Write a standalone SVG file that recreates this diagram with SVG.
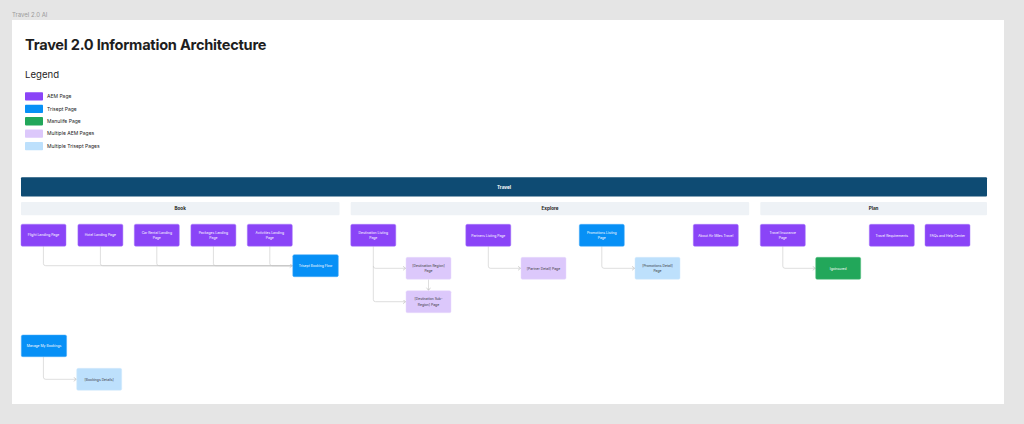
<svg xmlns="http://www.w3.org/2000/svg" width="1024" height="424" viewBox="0 0 1024 424">
<style>
text{font-family:Inter,"Noto Sans","Liberation Sans",sans-serif}
.n rect{rx:1.5;ry:1.5;stroke-width:0.5}
.aem rect{fill:#8a44f7;stroke:#a77af9}
.tri rect{fill:#0790f6;stroke:#4badf8}
.man rect{fill:#22a75a;stroke:#5cc185}
.maem rect{fill:#dcc8fb;stroke:#e8dafd}
.mtri rect{fill:#bde0fc;stroke:#d3eafd}
.n text{font-size:3.4px;text-anchor:middle;fill:#ffffff}
.maem text,.mtri text{fill:#3a3a3a}
.band rect{fill:#eef2f6}
.band text{font-size:4.6px;font-weight:700;text-anchor:middle;fill:#222}
.leg text{font-size:5px;fill:#222}
.c path{fill:none;stroke:#c8c8c8;stroke-width:0.6}
</style>
<defs>
<marker id="ar" markerUnits="userSpaceOnUse" markerWidth="6" markerHeight="6" refX="3" refY="2.2" orient="auto">
<path d="M0.3,0.2 L3,2.2 L0.3,4.2" fill="none" stroke="#b8b8b8" stroke-width="0.6"/>
</marker>
</defs>
<rect x="0" y="0" width="1024" height="424" fill="#e5e5e5"/>
<text x="12" y="16.5" font-size="6" fill="#9a9a9a">Travel 2.0 AI</text>
<rect x="12" y="20" width="992" height="384" fill="#ffffff"/>
<text x="25" y="50" font-size="14.6" font-weight="700" fill="#1e1e1e" letter-spacing="-0.25">Travel 2.0 Information Architecture</text>
<text x="25" y="77.7" font-size="9.6" fill="#1e1e1e">Legend</text>
<g id="legend" class="leg">
<rect x="25" y="92.3" width="18" height="8.3" rx="0.8" fill="#8a44f7"/><text x="47" y="98.2">AEM Page</text>
<rect x="25" y="104.7" width="18" height="8.3" rx="0.8" fill="#0790f6"/><text x="47" y="110.6">Trisept Page</text>
<rect x="25" y="117.1" width="18" height="8.3" rx="0.8" fill="#22a75a"/><text x="47" y="123">Manulife Page</text>
<rect x="25" y="129.5" width="18" height="8.3" rx="0.8" fill="#dcc8fb"/><text x="47" y="135.4">Multiple AEM Pages</text>
<rect x="25" y="141.9" width="18" height="8.3" rx="0.8" fill="#bde0fc"/><text x="47" y="147.8">Multiple Trisept Pages</text>
</g>
<g id="travel">
<rect x="21" y="177.3" width="966" height="19.3" rx="1" fill="#0e4b73"/>
<text x="504" y="188.6" font-size="4.6" font-weight="700" fill="#ffffff" text-anchor="middle">Travel</text>
</g>
<g id="band-book" class="band"><rect x="21" y="202" width="318.5" height="13.2" rx="1"/><text x="180.2" y="210.2">Book</text></g>
<g id="band-explore" class="band"><rect x="350.7" y="202" width="398.5" height="13.2" rx="1"/><text x="550" y="210.2">Explore</text></g>
<g id="band-plan" class="band"><rect x="760.3" y="202" width="226.7" height="13.2" rx="1"/><text x="873.6" y="210.2">Plan</text></g>

<g id="connectors" class="c">
<path d="M43.4 246.3 V263.5 Q43.4 265.7 45.6 265.7 H292.4" marker-end="url(#ar)"/>
<path d="M100.4 246.3 V263.5 Q100.4 265.7 102.6 265.7 H292.4"/>
<path d="M156.8 246.3 V263.5 Q156.8 265.7 159 265.7 H292.4"/>
<path d="M213.4 246.3 V263.5 Q213.4 265.7 215.6 265.7 H292.4"/>
<path d="M269.8 246.3 V263.5 Q269.8 265.7 272 265.7 H292.4"/>
<path d="M373.3 246.3 V266.1 Q373.3 268.3 375.5 268.3 H405.7" marker-end="url(#ar)"/>
<path d="M373.3 266 V299.5 Q373.3 301.7 375.5 301.7 H405.7" marker-end="url(#ar)"/>
<path d="M428.5 279.3 V290.4" marker-end="url(#ar)"/>
<path d="M488.3 246.3 V266.1 Q488.3 268.3 490.5 268.3 H520.7" marker-end="url(#ar)"/>
<path d="M601.8 246.3 V266.1 Q601.8 268.3 604 268.3 H634.7" marker-end="url(#ar)"/>
<path d="M782.8 246.3 V266.1 Q782.8 268.3 785 268.3 H815.4" marker-end="url(#ar)"/>
<path d="M43.4 356.7 V377.1 Q43.4 379.3 45.6 379.3 H76.4" marker-end="url(#ar)"/>
</g>

<g id="flight" class="n aem"><rect x="21" y="224.2" width="45" height="22"/><text x="43.5" y="236.4">Flight Landing Page</text></g>
<g id="hotel" class="n aem"><rect x="77.9" y="224.2" width="45" height="22"/><text x="100.4" y="236.4">Hotel Landing Page</text></g>
<g id="carrental" class="n aem"><rect x="134.3" y="224.2" width="45" height="22"/><text x="156.8" y="233.6">Car Rental Landing</text><text x="156.8" y="239.2">Page</text></g>
<g id="packages" class="n aem"><rect x="190.9" y="224.2" width="45" height="22"/><text x="213.4" y="233.6">Packages Landing</text><text x="213.4" y="239.2">Page</text></g>
<g id="activities" class="n aem"><rect x="247.3" y="224.2" width="45" height="22"/><text x="269.8" y="233.6">Activities Landing</text><text x="269.8" y="239.2">Page</text></g>
<g id="trisept" class="n tri"><rect x="292.8" y="254.7" width="45.5" height="22"/><text x="315.5" y="266.9">Trisept Booking Flow</text></g>

<g id="destination" class="n aem"><rect x="350.8" y="224.3" width="45" height="22"/><text x="373.3" y="233.7">Destination Listing</text><text x="373.3" y="239.3">Page</text></g>
<g id="destregion" class="n maem"><rect x="406" y="257.3" width="45" height="22"/><text x="428.5" y="266.7">[Destination Region]</text><text x="428.5" y="272.3">Page</text></g>
<g id="destsubregion" class="n maem"><rect x="406" y="290.7" width="45" height="22"/><text x="428.5" y="300.1">[Destination Sub-</text><text x="428.5" y="305.7">Region] Page</text></g>
<g id="partners" class="n aem"><rect x="465.8" y="224.3" width="45" height="22"/><text x="488.3" y="236.5">Partners Listing Page</text></g>
<g id="partnerdetail" class="n maem"><rect x="521" y="257.3" width="45" height="22"/><text x="543.5" y="269.5">[Partner Detail] Page</text></g>
<g id="promotions" class="n tri"><rect x="579.3" y="224.3" width="45" height="22"/><text x="601.8" y="233.7">Promotions Listing</text><text x="601.8" y="239.3">Page</text></g>
<g id="promodetail" class="n mtri"><rect x="635" y="257.3" width="45" height="22"/><text x="657.5" y="266.7">[Promotions Detail]</text><text x="657.5" y="272.3">Page</text></g>
<g id="about" class="n aem"><rect x="693.3" y="224.3" width="45" height="22"/><text x="715.8" y="236.5">About Air Miles Travel</text></g>

<g id="insurance" class="n aem"><rect x="760.3" y="224.3" width="45" height="22"/><text x="782.8" y="233.7">Travel Insurance</text><text x="782.8" y="239.3">Page</text></g>
<g id="igoinsured" class="n man"><rect x="815.7" y="257.3" width="45" height="22"/><text x="838.2" y="269.5">Igoinsured</text></g>
<g id="requirements" class="n aem"><rect x="869.3" y="224.3" width="45" height="22"/><text x="891.8" y="236.5">Travel Requirements</text></g>
<g id="faqs" class="n aem"><rect x="925" y="224.3" width="45" height="22"/><text x="947.5" y="236.5">FAQs and Help Center</text></g>

<g id="managebookings" class="n tri"><rect x="21.3" y="335" width="45.3" height="21.7"/><text x="44" y="347">Manage My Bookings</text></g>
<g id="bookingsdetails" class="n mtri"><rect x="76.7" y="368.3" width="45" height="22"/><text x="99.2" y="380.5">[Bookings Details]</text></g>
</svg>
